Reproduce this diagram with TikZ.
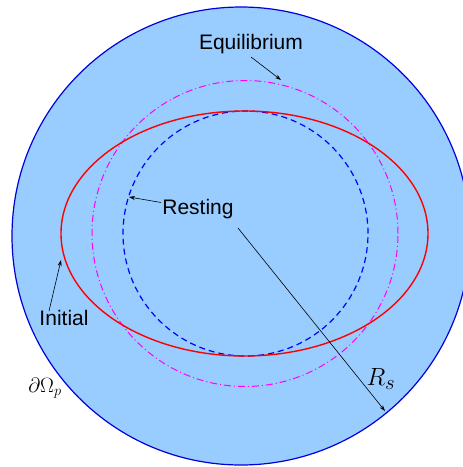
\documentclass[tikz,border=0pt]{standalone}
\usepackage{fontspec}
\setmainfont{Liberation Sans}
\usepackage{tikz}
\usetikzlibrary{arrows.meta}
\definecolor{domain}{HTML}{99CCFF}
\definecolor{rim}{HTML}{0000DD}
\definecolor{equil}{HTML}{FF00FF}

\begin{document}
\begin{tikzpicture}[x=1pt, y=-1pt,
  lbl/.style={font=\fontsize{21}{25}\selectfont, inner sep=1pt},
  arr/.style={-{Stealth[length=6pt, width=4pt]}, line width=0.6pt}]

  \useasboundingbox (0,0) rectangle (463,467);
  \clip (0,0) rectangle (463,467);

  % domain and the three shapes
  \draw[rim, line width=1.2pt, fill=domain] (241,236) circle [radius=229pt];
  \draw[equil, line width=1pt, dash pattern=on 7pt off 3pt on 1pt off 3pt]
    (245,233.5) circle [radius=153pt];
  \draw[blue, line width=1.2pt, dash pattern=on 6pt off 4pt]
    (245.5,233.5) circle [radius=122.5pt];
  \draw[red, line width=1.4pt] (244.5,233.5) ellipse [x radius=183.5pt, y radius=122.5pt];

  \coordinate (equilTip) at (281,80);
  \coordinate (restTip) at (129,197);
  \coordinate (initTip) at (61,260);
  \coordinate (rsStart) at (238,228);
  \coordinate (rsTip) at (385,411);

  \node[lbl] (equilLbl) at (251,44) {Equilibrium};
  \node[lbl] (restLbl) at (198,209) {Resting};
  \node[lbl] (initLbl) at (64,318) {Initial};
  \node[font=\fontsize{28}{32}\selectfont] (rsLbl) at (381,379) {$R_s$};
  \node[font=\fontsize{22}{26}\selectfont] (bdLbl) at (45,388) {$\partial\Omega_p$};

  \draw[arr] ([yshift=-2pt]equilLbl.south) -- (equilTip);
  \draw[arr] (restLbl.170) -- (restTip);
  \draw[arr] ([xshift=-15pt, yshift=-2pt]initLbl.north) -- (initTip);
  \draw[arr] (rsStart) -- (rsTip);
\end{tikzpicture}
\end{document}
